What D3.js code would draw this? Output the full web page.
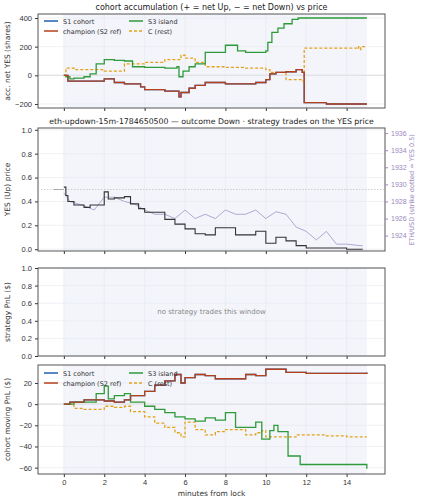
<!DOCTYPE html>
<html><head><meta charset="utf-8">
<script src="https://cdn.jsdelivr.net/npm/d3@7"></script>
<style>body{margin:0;background:#fff;font-family:"DejaVu Sans",sans-serif}</style>
</head><body><svg id="c" width="421" height="500"></svg>
<script>
// step series, [minutes, value]
const accS3 = [[0,0],[0.1,-10],[0.3,-25],[0.5,-20],[1,-10],[1.3,10],[1.6,80],[2,110],[2.5,105],[3,100],[3.4,60],[4,55],[5,50],[5.6,60],[5.7,-10],[5.9,30],[6.2,60],[6.5,80],[7,160],[8,210],[8.6,170],[9,160],[10,170],[10.1,230],[10.3,300],[10.6,330],[10.9,360],[11.3,390],[11.6,400],[15,400]];
const accChamp = [[0,0],[0.2,-40],[1,-40],[2,-25],[2.5,-50],[3,-60],[3.8,-80],[4,-100],[5,-110],[5.7,-150],[5.8,-120],[6.2,-90],[6.5,-70],[7,-50],[8,-60],[9,-60],[9.5,-50],[10,-30],[10.2,10],[10.5,20],[11,25],[11.5,40],[11.8,20],[11.9,-190],[13,-200],[15,-200]];
const accRest = [[0,0],[0.1,50],[0.5,40],[1,40],[2,30],[3,80],[4,90],[5,110],[5.8,140],[6,120],[6.5,90],[7,60],[8,55],[9,50],[10,40],[10.2,20],[11,-30],[11.8,-40],[11.9,190],[14.5,200],[14.6,180],[14.7,200],[15,200]];
const yesPrice = [[0,0.52],[0.1,0.45],[0.2,0.40],[0.5,0.37],[1,0.35],[1.3,0.37],[2,0.48],[2.2,0.42],[2.5,0.43],[3,0.44],[3.3,0.38],[3.7,0.34],[4,0.31],[5,0.25],[5.5,0.21],[6,0.17],[6.5,0.13],[7,0.12],[7.5,0.18],[8,0.18],[8.5,0.12],[9,0.12],[9.5,0.15],[10,0.05],[10.5,0.10],[11,0.07],[11.5,0.03],[12,0.01],[14,0.00],[14.8,0.00]];
const ethUsd = [[0,1929],[0.3,1928],[1,1927.5],[1.5,1927],[2,1928.5],[2.5,1928.5],[3,1928],[3.5,1927.7],[4,1927],[4.5,1926.5],[5,1926.5],[5.5,1926],[6,1927],[6.5,1926],[7,1926.5],[7.5,1926],[8,1927],[8.5,1926.5],[9,1926.5],[9.5,1927],[10,1926],[10.5,1926.8],[11,1926.5],[11.5,1925],[12,1924.5],[12.5,1923.5],[13,1924.5],[13.5,1923],[14,1923],[14.8,1922.8]];
const pnlChamp = [[0,0],[0.3,2],[1,4],[2,3],[2.5,2],[3,4],[3.3,8],[4,12],[4.5,18],[5,22],[5.5,28],[5.8,20],[6,25],[6.5,28],[7,27],[7.5,24],[8.5,24],[9,28],[9.5,27],[10,33],[11,30],[12,29],[15,30]];
const pnlS3 = [[0,0],[0.5,2],[1.6,10],[2,17],[2.2,5],[2.5,8],[3,10],[3.3,2],[4,-2],[4.5,-5],[5,-8],[5.5,-12],[6,-14],[6.5,-16],[7,-13],[7.5,-15],[8,-8],[8.5,-22],[9,-22],[9.5,-17],[9.8,-33],[10.2,-25],[10.4,-20],[10.6,-26],[11,-26],[11.1,-49],[11.7,-57],[14.98,-57],[15,-61]];
const pnlRest = [[0,0],[0.5,-4],[1,-5],[2,-2],[2.5,-3],[3,-2],[3.3,-7],[4,-12],[4.5,-18],[5,-22],[5.5,-27],[5.8,-31],[6,-17],[6.5,-24],[7,-29],[7.5,-26],[8,-24],[9,-29],[9.5,-27],[9.8,-25],[10,-31],[11,-31],[11.5,-29],[13,-30],[14,-31],[15,-31]];
const xTicks = [0,2,4,6,8,10,12,14];

const svg = d3.select("#c");
const L = 38, R = 385;
const x = d3.scaleLinear().domain([-1.28, 15.9]).range([L, R]);
const C = {blue:"#1f5fb4", red:"#b5401c", green:"#2e9a3a", gold:"#e3a21a"};
const line = (y) => d3.line().curve(d3.curveStepAfter).x(d => x(d[0])).y(d => y(d[1]));
const fmtY = t => t < 0 ? "\u2212" + Math.abs(t) : String(t);

function panel(top, bot, dom, ticks, label, showX, fmt) {
  const y = d3.scaleLinear().domain(dom).range([bot, top]);
  const g = svg.append("g");
  g.append("rect").attr("x", x(0)).attr("y", top).attr("width", x(15) - x(0)).attr("height", bot - top).attr("fill", "#f3f5fb");
  xTicks.forEach(t => g.append("line").attr("x1", x(t)).attr("x2", x(t)).attr("y1", top).attr("y2", bot).attr("stroke", "#e6e8ee").attr("stroke-width", 0.6));
  ticks.forEach(t => g.append("line").attr("x1", L).attr("x2", R).attr("y1", y(t)).attr("y2", y(t)).attr("stroke", "#e6e8ee").attr("stroke-width", 0.6));
  const ya = g.append("g").attr("transform", `translate(${L},0)`).call(d3.axisLeft(y).tickValues(ticks).tickSize(3).tickFormat(fmt || fmtY));
  const xa = g.append("g").attr("transform", `translate(0,${bot})`).call(d3.axisBottom(x).tickValues(xTicks).tickSize(3).tickFormat(showX ? d => d : () => ""));
  [ya, xa].forEach(a => { a.select(".domain").remove(); a.selectAll("text").attr("font-size", 7.5).attr("fill", "#333"); a.selectAll("line").attr("stroke", "#333"); });
  g.append("rect").attr("x", L).attr("y", top).attr("width", R - L).attr("height", bot - top).attr("fill", "none").attr("stroke", "#555").attr("stroke-width", 1);
  g.append("text").attr("transform", `translate(10,${(top + bot) / 2}) rotate(-90)`).attr("text-anchor", "middle").attr("font-size", 7.5).attr("fill", "#333").text(label);
  return {y, g};
}
function zeroLine(p) {
  p.g.insert("line", "rect + line").attr("x1", L).attr("x2", R).attr("y1", p.y(0)).attr("y2", p.y(0)).attr("stroke", "#ddd").attr("stroke-width", 1.2);
}
function path(p, data, col, dash, w) {
  p.g.append("path").datum(data).attr("d", line(p.y)).attr("fill", "none").attr("stroke", col).attr("stroke-width", w || 1.3).attr("stroke-dasharray", dash || null);
}
function legend(p, top) {
  const items = [["S1 cohort", C.blue, null, 0, 0], ["champion (S2 ref)", C.red, null, 0, 1], ["S3 island", C.green, null, 1, 0], ["C (rest)", C.gold, "3,2", 1, 1]];
  items.forEach(it => {
    const lx = L + 6 + it[3] * 85, ly = top + 7 + it[4] * 10;
    p.g.append("line").attr("x1", lx).attr("x2", lx + 14).attr("y1", ly).attr("y2", ly).attr("stroke", it[1]).attr("stroke-width", 1.5).attr("stroke-dasharray", it[2]);
    p.g.append("text").attr("x", lx + 19).attr("y", ly + 2.5).attr("font-size", 6.5).attr("fill", "#333").text(it[0]);
  });
}
function title(t, yy, fs) {
  svg.append("text").attr("x", (L + R) / 2).attr("y", yy).attr("text-anchor", "middle").attr("font-size", fs).attr("fill", "#222").text(t);
}
const f1 = d3.format(".1f");

// panel 1
title("cohort accumulation (+ = net Up, \u2212 = net Down) vs price", 10, 8);
const p1 = panel(14, 108, [-228, 428], [-200, 0, 200, 400], "acc. net YES (shares)", false);
zeroLine(p1);
path(p1, accChamp, C.blue);
path(p1, accRest, C.gold, "3,2");
path(p1, accS3, C.green);
path(p1, accChamp, C.red);
legend(p1, 14);

// panel 2
title("eth-updown-15m-1784650500 \u2014 outcome Down \u00b7 strategy trades on the YES price", 124, 7.8);
const p2 = panel(128, 251, [-0.015, 1.015], [0, 0.2, 0.4, 0.6, 0.8, 1.0], "YES (Up) price", false, f1);
const yR = d3.scaleLinear().domain([1922.2, 1936.6]).range([251, 128]);
const ra = p2.g.append("g").attr("transform", `translate(${R},0)`).call(d3.axisRight(yR).tickValues([1924, 1926, 1928, 1930, 1932, 1934, 1936]).tickSize(3).tickFormat(d3.format("d")));
ra.select(".domain").remove();
ra.selectAll("text").attr("font-size", 7).attr("fill", "#9b86c0");
ra.selectAll("line").attr("stroke", "#9b86c0");
p2.g.append("text").attr("transform", `translate(414,190) rotate(-90)`).attr("text-anchor", "middle").attr("font-size", 6.5).attr("fill", "#9b86c0").text("ETH/USD (strike dotted = YES 0.5)");
p2.g.append("line").attr("x1", L).attr("x2", R).attr("y1", p2.y(0.5)).attr("y2", p2.y(0.5)).attr("stroke", "#bbb").attr("stroke-width", 0.7).attr("stroke-dasharray", "1.5,1.5");
p2.g.append("line").attr("x1", x(-0.5)).attr("x2", x(0)).attr("y1", p2.y(0.5)).attr("y2", p2.y(0.5)).attr("stroke", "#aaa").attr("stroke-width", 1);
p2.g.append("path").datum(ethUsd).attr("d", d3.line().x(d => x(d[0])).y(d => yR(d[1]))).attr("fill", "none").attr("stroke", "#b4a6d3").attr("stroke-width", 1);
path(p2, yesPrice, "#333", null, 1.1);

// panel 3
const p3 = panel(268, 356, [0, 1], [0, 0.2, 0.4, 0.6, 0.8, 1.0], "strategy PnL ($)", false, f1);
p3.g.append("text").attr("x", (L + R) / 2).attr("y", 314).attr("text-anchor", "middle").attr("font-size", 7).attr("fill", "#888").text("no strategy trades this window");

// panel 4
const p4 = panel(365, 474, [-66, 37], [-60, -40, -20, 0, 20], "cohort moving PnL ($)", true);
zeroLine(p4);
path(p4, pnlChamp, C.blue);
path(p4, pnlRest, C.gold, "3,2");
path(p4, pnlS3, C.green);
path(p4, pnlChamp, C.red);
legend(p4, 366);
svg.append("text").attr("x", (L + R) / 2).attr("y", 496).attr("text-anchor", "middle").attr("font-size", 7.5).attr("fill", "#333").text("minutes from lock");
</script></body></html>
